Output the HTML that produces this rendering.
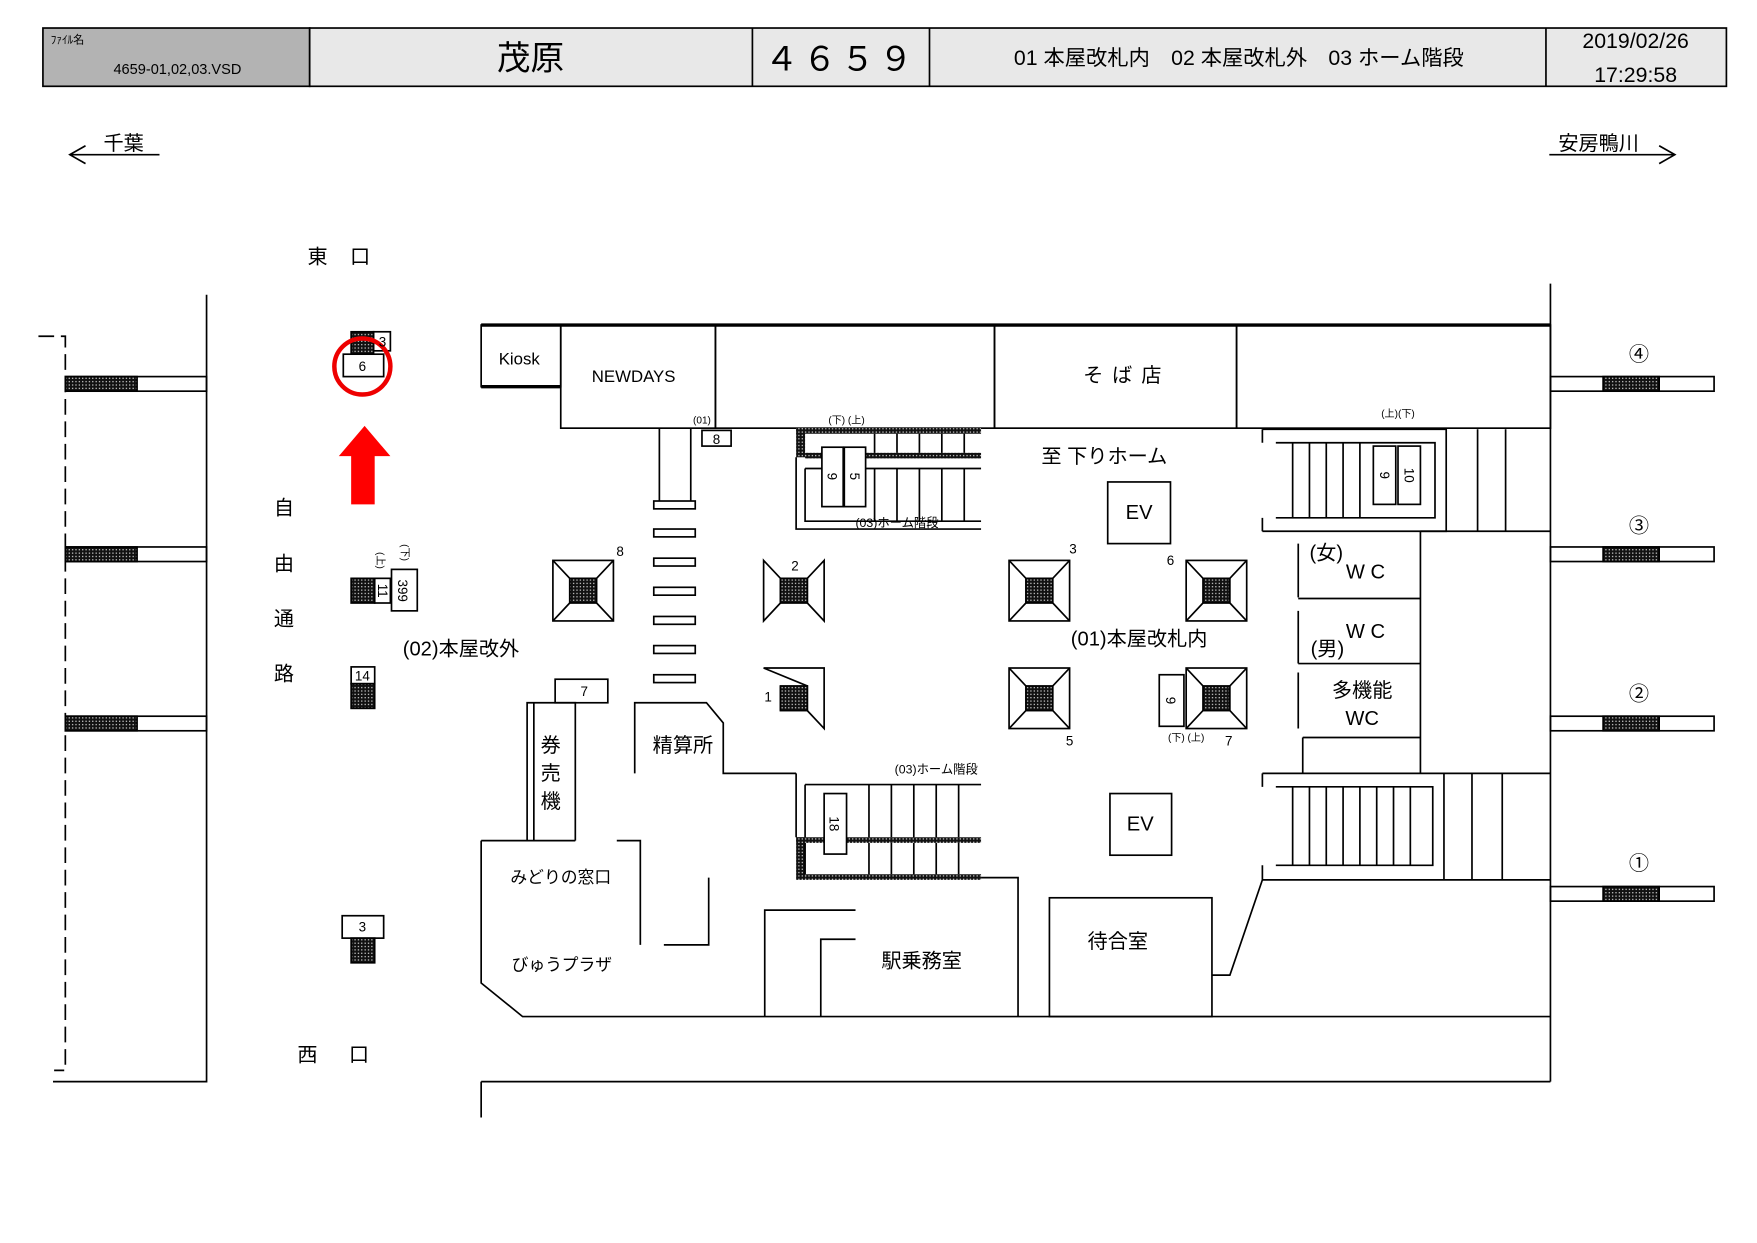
<!DOCTYPE html>
<html><head><meta charset="utf-8"><style>
html,body{margin:0;padding:0;background:#fff;}
svg{display:block;}
text{font-family:"Liberation Sans","Noto Sans CJK JP",sans-serif;fill:#000;}
</style></head><body>
<svg width="1757" height="1243" viewBox="0 0 1567 1109" xmlns="http://www.w3.org/2000/svg">
<defs>
<pattern id="h" width="3" height="3" patternUnits="userSpaceOnUse"><rect width="3" height="3" fill="#111"/><rect x="1" y="1" width="1" height="1" fill="#fff"/></pattern>
</defs>
<g stroke="#000" stroke-width="1.5" fill="none">
<rect x="38" y="25" width="238" height="52" fill="#b3b3b3"/>
<rect x="276" y="25" width="1264" height="52" fill="#e8e8e8"/>
<line x1="671" y1="25" x2="671" y2="77"/><line x1="829" y1="25" x2="829" y2="77"/><line x1="1379" y1="25" x2="1379" y2="77"/>
<path d="M62 138H142M76 130L62 138L76 146"/>
<path d="M1382 138H1494M1480 130L1494 138L1480 146"/>
<path d="M184 263V965H47"/>
<path d="M34 300H58V955H48" stroke-dasharray="14 6"/>
<rect x="58" y="336" width="126" height="13"/><rect x="58" y="336" width="64" height="13" fill="url(#h)"/>
<rect x="58" y="488" width="126" height="13"/><rect x="58" y="488" width="64" height="13" fill="url(#h)"/>
<rect x="58" y="639" width="126" height="13"/><rect x="58" y="639" width="64" height="13" fill="url(#h)"/>
<line x1="1383" y1="253" x2="1383" y2="965"/>
<rect x="1383" y="336" width="146" height="13"/><rect x="1430" y="336" width="50" height="13" fill="url(#h)"/>
<rect x="1383" y="488" width="146" height="13"/><rect x="1430" y="488" width="50" height="13" fill="url(#h)"/>
<rect x="1383" y="639" width="146" height="13"/><rect x="1430" y="639" width="50" height="13" fill="url(#h)"/>
<rect x="1383" y="791" width="146" height="13"/><rect x="1430" y="791" width="50" height="13" fill="url(#h)"/>
<rect x="313" y="296" width="20" height="20" fill="url(#h)"/><rect x="333" y="296" width="15" height="17"/>
<rect x="306" y="316" width="36" height="20" fill="#fff"/>
<rect x="313" y="516" width="21" height="22" fill="url(#h)"/><rect x="334" y="516" width="14" height="22"/><rect x="349" y="508" width="23" height="37"/>
<rect x="313" y="595" width="21" height="15"/><rect x="313" y="610" width="21" height="22" fill="url(#h)"/>
<rect x="305" y="817" width="37" height="20"/><rect x="313" y="837" width="21" height="22" fill="url(#h)"/>
<line x1="429" y1="290" x2="1383" y2="290" stroke-width="3"/>
<rect x="429" y="290" width="71" height="55"/><line x1="429" y1="345" x2="500" y2="345" stroke-width="3"/>
<rect x="500" y="290" width="138" height="92"/><rect x="638" y="290" width="249" height="92"/>
<rect x="887" y="290" width="216" height="92"/><rect x="1103" y="290" width="280" height="92"/>
<rect x="626" y="384" width="26" height="14"/>
<path d="M588 382V447M616 382V447"/>
<rect x="583" y="447" width="37" height="7"/><rect x="583" y="472" width="37" height="7"/><rect x="583" y="498" width="37" height="7"/><rect x="583" y="524" width="37" height="7"/><rect x="583" y="550" width="37" height="7"/><rect x="583" y="576" width="37" height="7"/><rect x="583" y="602" width="37" height="7"/>
<rect x="710" y="382" width="165" height="5" fill="url(#h)" stroke="none"/>
<rect x="710" y="382" width="8" height="26" fill="url(#h)" stroke="none"/>
<rect x="718" y="404" width="157" height="5" fill="url(#h)" stroke="none"/>
<path d="M710 408V472H875M718 418H875M718 418V465H875"/>
<path d="M780 387V404M800 387V404M820 387V404M840 387V404M860 387V404M780 418V465M800 418V465M820 418V465M840 418V465M860 418V465"/>
<rect x="733" y="399" width="19" height="53" fill="#fff"/><rect x="753" y="399" width="19" height="53" fill="#fff"/>
<rect x="988" y="430" width="56" height="55"/><rect x="990" y="708" width="55" height="55"/>
<path d="M1126 383H1290V474H1126M1126 383V395M1126 462V474M1138 395H1280V462H1138M1290 383V474M1318 383V474M1343 383V474"/>
<path d="M1153 395V462M1168 395V462M1183 395V462M1198 395V462M1213 395V462"/>
<rect x="1225" y="398" width="20" height="52" fill="#fff"/><rect x="1247" y="398" width="20" height="52" fill="#fff"/>
<path d="M1267 474H1383M1267 474V690M1158 534H1267M1158 592H1267M1162 658H1267M1162 658V690M1158 485V533M1158 545V592M1158 600V650"/>
<path d="M1126 690H1383M1126 690V702M1126 772V785H1383M1138 702H1278V772H1138M1288 690V785M1313 690V785M1340 690V785"/>
<path d="M1153 702V772M1168 702V772M1183 702V772M1198 702V772M1213 702V772M1228 702V772M1243 702V772M1258 702V772"/>
<rect x="493" y="500" width="54" height="54"/><path d="M493 500L508 516M547 500L532 516M493 554L508 538M547 554L532 538"/><rect x="508" y="516" width="24" height="22" fill="url(#h)"/>
<path d="M681 500L696 516V538L681 554ZM735 500L720 516V538L735 554Z"/><rect x="696" y="516" width="24" height="22" fill="url(#h)"/>
<rect x="900" y="500" width="54" height="54"/><path d="M900 500L915 516M954 500L939 516M900 554L915 538M954 554L939 538"/><rect x="915" y="516" width="24" height="22" fill="url(#h)"/>
<rect x="1058" y="500" width="54" height="54"/><path d="M1058 500L1073 516M1112 500L1097 516M1058 554L1073 538M1112 554L1097 538"/><rect x="1073" y="516" width="24" height="22" fill="url(#h)"/>
<path d="M681 596H735V650L720 634V612ZM696 612V634"/><rect x="696" y="612" width="24" height="22" fill="url(#h)"/>
<rect x="900" y="596" width="54" height="54"/><path d="M900 596L915 612M954 596L939 612M900 650L915 634M954 650L939 634"/><rect x="915" y="612" width="24" height="22" fill="url(#h)"/>
<rect x="1058" y="596" width="54" height="54"/><path d="M1058 596L1073 612M1112 596L1097 612M1058 650L1073 634M1112 650L1097 634"/><rect x="1073" y="612" width="24" height="22" fill="url(#h)"/>
<rect x="1034" y="602" width="22" height="46"/>
<rect x="495" y="606" width="47" height="21"/>
<path d="M470 750V627H513V750M476 627V750"/>
<path d="M566 690V627H630L645 645V690H710"/>
<rect x="710" y="747" width="165" height="5" fill="url(#h)" stroke="none"/>
<rect x="710" y="747" width="8" height="38" fill="url(#h)" stroke="none"/>
<rect x="718" y="780" width="157" height="5" fill="url(#h)" stroke="none"/>
<path d="M710 690V747M718 700H875M718 700V747M718 752V780"/>
<path d="M775 700V747M795 700V747M815 700V747M835 700V747M855 700V747M775 752V780M795 752V780M815 752V780M835 752V780M855 752V780"/>
<rect x="735" y="708" width="20" height="54" fill="#fff"/>
<path d="M429 750H513M429 750V877L466 907H1383M550 750H571V843M632 783V843H592"/>
<path d="M682 907V812H763M732 907V838H763M875 783H908V907"/>
<rect x="936" y="801" width="145" height="106"/>
<path d="M1081 870H1097L1126 785"/>
<path d="M429 965H1383M429 965V997"/>
</g>
<circle cx="323" cy="327" r="25" fill="none" stroke="#e00" stroke-width="4"/>
<path d="M313 450V407H302L325 380L348 407H334V450Z" fill="#f00"/>
<g font-size="10"><text x="45" y="39">ﾌｧｲﾙ名</text></g>
<text x="158" y="66" font-size="13" text-anchor="middle">4659-01,02,03.VSD</text>
<text x="473" y="62" font-size="30" text-anchor="middle">茂原</text>
<text x="750" y="63" font-size="30" text-anchor="middle" letter-spacing="4">４６５９</text>
<text x="1105" y="58" font-size="19" text-anchor="middle">01 本屋改札内　02 本屋改札外　03 ホーム階段</text>
<text x="1459" y="43" font-size="19" text-anchor="middle">2019/02/26</text>
<text x="1459" y="73" font-size="19" text-anchor="middle">17:29:58</text>
<g font-size="18" text-anchor="middle">
<text x="110" y="134">千葉</text><text x="1426" y="134">安房鴨川</text>
<text x="283" y="235">東</text><text x="321" y="235">口</text>
<text x="274" y="947">西</text><text x="320" y="947">口</text>
<text x="253" y="459">自</text><text x="253" y="509">由</text><text x="253" y="558">通</text><text x="253" y="607">路</text>
<text x="1462" y="322">④</text><text x="1462" y="475">③</text><text x="1462" y="625">②</text><text x="1462" y="776">①</text>
<text x="491" y="671">券</text><text x="491" y="696">売</text><text x="491" y="721">機</text>
<text x="609" y="671">精算所</text>
<text x="822" y="863">駅乗務室</text>
<text x="997" y="846">待合室</text>
<text x="411" y="585">(02)本屋改外</text>
<text x="1016" y="576">(01)本屋改札内</text>
<text x="985" y="413">至 下りホーム</text>
<text x="1005" y="341" letter-spacing="8">そば店</text>
<text x="1016" y="463">EV</text><text x="1017" y="741">EV</text>
<text x="1183" y="499">(女)</text><text x="1218" y="516">W C</text>
<text x="1218" y="569">W C</text><text x="1184" y="585">(男)</text>
<text x="1215" y="622">多機能</text><text x="1215" y="647">WC</text>
</g>
<g font-size="15" text-anchor="middle">
<text x="463" y="325">Kiosk</text><text x="565" y="341">NEWDAYS</text>
<text x="500" y="788">みどりの窓口</text><text x="501" y="866">びゅうプラザ</text>
</g>
<g font-size="12" text-anchor="middle">
<text x="323" y="331">6</text><text x="341" y="309">3</text>
<text x="639" y="396">8</text><text x="521" y="621">7</text>
<text x="323" y="607">14</text><text x="323" y="831">3</text>
<text x="553" y="496">8</text><text x="709" y="509">2</text><text x="957" y="494">3</text><text x="1044" y="504">6</text>
<text x="685" y="626">1</text><text x="954" y="665">5</text><text x="1096" y="665">7</text>
<text x="800" y="470" font-size="11">(03)ホーム階段</text>
<text x="835" y="690" font-size="11">(03)ホーム階段</text>
</g>
<g font-size="9" text-anchor="middle">
<text x="626" y="378">(01)</text><text x="755" y="378">(下) (上)</text><text x="1247" y="372">(上)(下)</text>
<text x="1058" y="661">(下) (上)</text>
</g>
<g font-size="12" text-anchor="middle">
<text transform="translate(738,425) rotate(90)">9</text>
<text transform="translate(758,425) rotate(90)">5</text>
<text transform="translate(1231,424) rotate(90)">9</text>
<text transform="translate(1253,424) rotate(90)">10</text>
<text transform="translate(1040,625) rotate(90)">9</text>
<text transform="translate(740,735) rotate(90)">18</text>
<text transform="translate(355,527) rotate(90)">399</text>
<text transform="translate(337,527) rotate(90)">11</text>
<text transform="translate(336,500) rotate(90)" font-size="9">(上)</text>
<text transform="translate(358,493) rotate(90)" font-size="9">(下)</text>
</g>
</svg>
</body></html>
